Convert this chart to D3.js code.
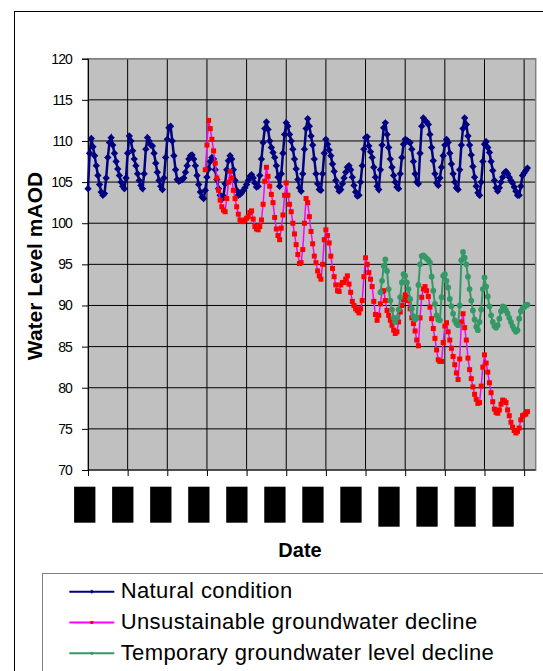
<!DOCTYPE html>
<html>
<head>
<meta charset="utf-8">
<script src="https://cdn.jsdelivr.net/npm/d3@7"></script>
<style>
  body { margin: 0; background: #fff; }
  svg { display: block; font-family: Arial, "Liberation Sans", sans-serif; }
</style>
</head>
<body>
<div id="container"></div>
<script>
// Half-monthly water levels (mAOD), step 0 = first date label on the axis

// Natural condition
const naturalStart = 0;
const natural = [
  104.2, 108.5, 110.3, 109.3, 108.2, 107.0, 105.8, 104.7, 103.8, 103.4,
  103.6, 105.5, 108.0, 109.8, 110.4, 109.5, 108.5, 107.5, 106.6, 105.8,
  105.0, 104.5, 104.2, 105.5, 108.5, 110.6, 110.0, 108.8, 107.8, 107.0,
  106.0, 105.2, 104.6, 104.2, 106.0, 109.0, 110.4, 110.0, 109.5, 109.4,
  108.5, 107.3, 106.2, 105.2, 104.5, 104.1, 105.5, 108.0, 110.2, 111.6,
  111.8, 110.0, 108.2, 106.5, 105.3, 105.1, 105.2, 105.3, 105.5, 106.2,
  107.0, 107.8, 108.2, 108.3, 107.8, 107.0, 105.8, 104.7, 103.8, 103.2,
  103.0, 104.0, 105.6, 106.6, 107.5, 108.0, 107.8, 106.5, 105.3, 104.2,
  103.4, 102.9, 103.3, 104.8, 106.5, 107.6, 108.2, 107.8, 106.5, 105.2,
  104.0, 103.4, 103.5, 103.7, 104.0, 104.3, 104.7, 105.2, 105.7, 105.9,
  105.5, 104.9, 104.4, 104.5, 105.8, 107.8, 109.8, 111.5, 112.3, 111.4,
  110.0, 109.2, 108.6, 108.0, 107.0, 105.6, 104.5, 106.0, 108.5, 110.8,
  112.2, 111.8, 110.8, 110.0, 109.0, 107.8, 106.6, 105.3, 104.3, 103.9,
  106.0, 109.0, 111.5, 112.7, 111.8, 110.6, 109.5, 107.8, 106.0, 104.8,
  104.1, 104.0, 106.0, 108.5, 110.2, 109.6, 108.9, 108.2, 107.2, 106.3,
  105.2, 104.4, 103.9, 104.1, 104.8, 105.5, 106.2, 106.8, 107.0, 106.5,
  105.6, 104.6, 103.8, 103.3, 103.4, 105.0, 107.0, 109.0, 110.4, 110.5,
  109.4, 108.7, 108.0, 106.8, 105.6, 104.5, 104.1, 106.5, 109.5, 111.6,
  112.2, 110.8, 109.2, 107.8, 106.8, 105.8, 105.0, 104.4, 104.2, 106.0,
  108.0, 109.6, 110.2, 110.1, 109.9, 109.8, 109.0, 107.5, 106.0, 105.0,
  104.8, 108.5, 111.8, 112.8, 112.5, 112.3, 112.0, 110.8, 109.2, 107.6,
  106.0, 104.9, 104.6, 105.5, 106.8, 108.2, 109.5, 110.2, 109.8, 108.5,
  107.2, 106.0, 105.0, 104.3, 104.1, 106.5, 109.5, 111.5, 112.8, 112.0,
  110.6, 109.5, 108.3, 106.9, 105.6, 104.5, 103.7, 103.4, 105.0, 107.5,
  109.6, 109.9, 109.2, 108.6, 107.5, 106.4, 105.2, 104.3, 103.9, 104.3,
  105.0, 105.6, 106.1, 106.3, 106.0, 105.6, 105.2, 104.9, 104.4, 103.9,
  103.4, 103.4, 104.5, 105.8, 106.1, 106.4, 106.7
];

// Unsustainable groundwater decline
const declineStart = 71;
const decline = [
  106.5, 109.5, 112.5, 111.5, 110.2, 108.8, 107.3, 105.5, 104.0, 102.8,
  102.0, 101.6, 101.4, 103.0, 105.0, 106.3, 105.5, 104.0, 103.0, 102.0,
  101.1, 100.4, 100.2, 100.2, 100.4, 100.6, 100.8, 101.3, 101.5, 100.5,
  99.6, 99.3, 99.2, 99.6, 100.4, 102.3, 105.1, 106.8, 105.7, 104.5,
  103.5, 102.5, 100.7, 99.3, 98.5, 98.0, 99.4, 101.0, 103.4, 104.9,
  103.4, 102.3, 101.4, 100.0, 98.7, 97.4, 96.2, 95.1, 95.2, 96.8,
  100.0, 103.0, 102.5, 100.8, 99.0, 97.5, 96.0, 95.2, 94.2, 93.6,
  93.2, 95.0, 98.0, 99.2, 98.5, 97.6, 96.0, 94.5, 93.5, 92.5,
  91.8, 91.7, 92.5, 92.8, 92.8, 93.2, 93.6, 92.6, 91.6, 90.5,
  90.0, 89.6, 89.4, 89.1, 89.6, 90.6, 93.5, 95.8, 95.0, 94.0,
  93.2, 92.3, 90.5, 88.9, 88.2, 88.8, 90.2, 91.7, 91.8, 90.6,
  89.4, 88.8, 88.2, 87.6, 87.0, 86.6, 86.8, 88.0, 89.2, 90.0,
  90.7, 91.3, 91.0, 90.6, 89.6, 88.5, 87.8, 86.9, 85.8, 85.1,
  88.5, 91.0, 92.0, 92.3, 91.8, 91.1, 89.8, 88.4, 87.2, 86.0,
  84.6, 83.4, 83.2, 83.2, 85.5, 87.5, 87.9, 86.8, 85.8, 84.8,
  83.8, 82.8, 81.8, 81.0, 83.5, 88.0, 89.0, 87.3, 85.8, 83.6,
  82.2, 81.1, 80.1, 79.2, 78.6, 78.1, 78.2, 80.2, 82.5, 84.0,
  83.0, 81.9, 80.6, 79.4, 78.3, 77.4, 77.0, 76.9, 77.3, 78.0,
  78.5, 78.4, 78.2, 77.3, 76.6, 75.8, 75.2, 74.8, 74.5, 74.7,
  75.1, 76.1, 76.6, 76.7, 76.8, 77.1
];

// Temporary groundwater level decline
const temporaryStart = 177;
const temporary = [
  91.6, 93.0, 94.8, 95.6, 94.2, 92.0, 90.6, 89.5, 88.5, 88.0,
  88.5, 89.5, 91.0, 92.8, 93.8, 93.6, 92.8, 92.0, 90.8, 89.6,
  88.7, 88.3, 88.5, 92.5, 95.0, 96.0, 96.1, 95.9, 95.7, 95.5,
  95.2, 93.5, 91.8, 90.2, 88.8, 88.3, 88.2, 91.0, 93.6, 93.8,
  93.0, 92.2, 90.8, 89.9, 89.0, 88.2, 87.8, 87.6, 90.0, 95.5,
  96.5, 95.8, 95.0, 93.5, 92.0, 90.6, 89.4, 88.3, 87.4, 87.0,
  88.0, 89.5, 92.0, 93.4, 92.3, 91.1, 89.9, 88.8, 88.0, 87.5,
  87.3, 87.6, 88.4, 89.3, 89.9, 89.8, 89.4, 89.0, 88.5, 88.0,
  87.5, 87.1, 86.8, 87.0, 88.4, 89.3, 89.6, 89.8, 90.0, 90.1
];

const seriesNames = ['Natural condition', 'Unsustainable groundwater decline', 'Temporary groundwater level decline'];
const yTicks = [70, 75, 80, 85, 90, 95, 100, 105, 110, 115, 120];
// one date label per year (half-month step index)
const dateTicks = [0, 24, 48, 72, 96, 120, 144, 168, 192, 216, 240, 264];

const width = 543;
const height = 671;

//Plot area inside the chart
const plot = { left: 88, top: 58.7, right: 535.7, bottom: 470 };

const svg = d3.select('#container').append('svg')
  .attr('width', width)
  .attr('height', height);

//Chart border
svg.append('rect')
  .attr('x', 14.5).attr('y', 11.5)
  .attr('width', 700).attr('height', 800)
  .attr('fill', '#fff')
  .attr('stroke', '#000');

const x = d3.scaleLinear()
  .domain([0, 271])
  .range([plot.left, plot.right]);

const y = d3.scaleLinear()
  .domain([70, 120])
  .range([plot.bottom, plot.top]);

//Grey plot background
svg.append('rect')
  .attr('x', plot.left).attr('y', plot.top)
  .attr('width', plot.right - plot.left)
  .attr('height', plot.bottom - plot.top)
  .attr('fill', '#c0c0c0');

//Gridlines
svg.append('g').selectAll('line')
  .data(yTicks.slice(1))
  .enter().append('line')
  .attr('x1', plot.left).attr('x2', plot.right)
  .attr('y1', d => y(d)).attr('y2', d => y(d))
  .attr('stroke', '#000').attr('stroke-width', 1);

svg.append('g').selectAll('line')
  .data(dateTicks.slice(1))
  .enter().append('line')
  .attr('x1', d => x(d)).attr('x2', d => x(d))
  .attr('y1', plot.top).attr('y2', plot.bottom)
  .attr('stroke', '#000').attr('stroke-width', 1);

svg.append('rect')
  .attr('x', plot.left).attr('y', plot.top)
  .attr('width', plot.right - plot.left)
  .attr('height', plot.bottom - plot.top)
  .attr('fill', 'none')
  .attr('stroke', '#808080').attr('stroke-width', 1.5);

//Y-Axis
const yAxis = svg.append('g')
  .attr('transform', 'translate(' + plot.left + ',0)')
  .call(d3.axisLeft(y).tickValues(yTicks).tickSize(6).tickPadding(10));
yAxis.select('.domain').attr('stroke', '#000');
yAxis.selectAll('text')
  .attr('font-size', 14)
  .attr('font-family', 'Arial, "Liberation Sans", sans-serif')
  .attr('letter-spacing', -0.9)
  .attr('fill', '#000');

//X-Axis (date labels are blacked out)
const xAxis = svg.append('g')
  .attr('transform', 'translate(0,' + plot.bottom + ')')
  .call(d3.axisBottom(x).tickValues(dateTicks).tickSize(6).tickFormat(''));
xAxis.select('.domain').attr('d', 'M' + plot.left + ',0H' + plot.right).attr('stroke', '#000');

const labelX = d3.scaleLinear()
  .domain([0, 264])
  .range([x(0) - 3.3, x(264) - 21.1]);

svg.append('g').selectAll('rect')
  .data(dateTicks)
  .enter().append('rect')
  .attr('x', d => labelX(d) - 10.6)
  .attr('y', 486.7)
  .attr('width', 21.3)
  .attr('height', (d, i) => i >= 8 ? 40 : 36)
  .attr('fill', '#000');

//Axis titles
svg.append('text')
  .attr('transform', 'translate(41.5,266) rotate(-90)')
  .attr('text-anchor', 'middle')
  .attr('font-size', 21)
  .attr('font-weight', 'bold')
  .text('Water Level mAOD');

svg.append('text')
  .attr('x', 300).attr('y', 556.5)
  .attr('text-anchor', 'middle')
  .attr('font-size', 20)
  .attr('font-weight', 'bold')
  .text('Date');

//Series
const series = [
  { name: seriesNames[0], start: naturalStart, values: natural, line: '#000080', fill: '#000080', marker: 'diamond', size: 5.2, lw: 2.5 },
  { name: seriesNames[1], start: declineStart, values: decline, line: '#ff00ff', fill: '#ff0000', marker: 'square', size: 5, lw: 1.5 },
  { name: seriesNames[2], start: temporaryStart, values: temporary, line: '#339966', fill: '#339966', marker: 'circle', size: 5.8, lw: 2 }
];

const line = d3.line()
  .x(d => x(d[0]))
  .y(d => y(d[1]));

function drawMarker(g, s, size) {
  if (s.marker === 'diamond') {
    g.append('rect')
      .attr('x', -size / 2).attr('y', -size / 2)
      .attr('width', size).attr('height', size)
      .attr('transform', 'rotate(45)')
      .attr('fill', s.fill);
  } else if (s.marker === 'square') {
    g.append('rect')
      .attr('x', -size / 2).attr('y', -size / 2)
      .attr('width', size).attr('height', size)
      .attr('fill', s.fill);
  } else {
    g.append('circle')
      .attr('r', size / 2)
      .attr('fill', s.fill);
  }
}

series.forEach(s => {
  const pts = s.values.map((v, i) => [s.start + i, v]);
  const g = svg.append('g');

  g.append('path')
    .datum(pts)
    .attr('d', line)
    .attr('fill', 'none')
    .attr('stroke', s.line)
    .attr('stroke-width', s.lw);

  g.selectAll('g.pt')
    .data(pts)
    .enter().append('g')
    .attr('class', 'pt')
    .attr('transform', d => 'translate(' + x(d[0]) + ',' + y(d[1]) + ')')
    .each(function () { drawMarker(d3.select(this), s, s.size); });
});

//Legend
svg.append('rect')
  .attr('x', 42.5).attr('y', 573.5)
  .attr('width', 600).attr('height', 200)
  .attr('fill', '#fff')
  .attr('stroke', '#808080');

series.forEach((s, i) => {
  const ly = 591.7 + i * 30.8;
  const g = svg.append('g');
  g.append('line')
    .attr('x1', 69.3).attr('x2', 114.3)
    .attr('y1', ly).attr('y2', ly)
    .attr('stroke', s.line).attr('stroke-width', 2);
  const m = g.append('g').attr('transform', 'translate(91.8,' + ly + ')');
  drawMarker(m, s, 3);
  g.append('text')
    .attr('x', 120.7).attr('y', ly + 6.5)
    .attr('font-size', 22)
    .attr('letter-spacing', 0.4)
    .text(s.name);
});
</script>
</body>
</html>
